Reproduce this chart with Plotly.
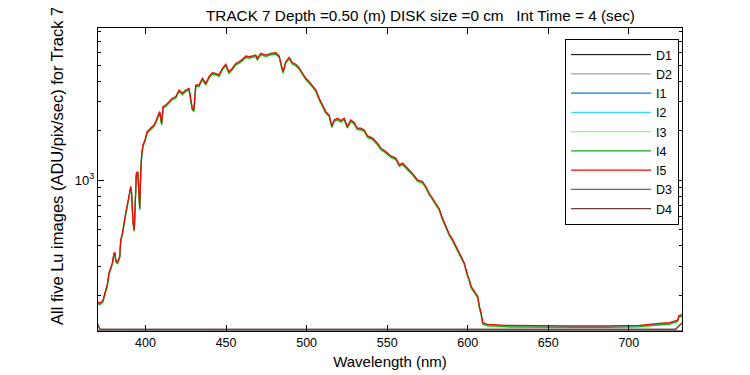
import plotly.graph_objects as go
import math

# ---- data ----
wavelength = [370.5, 371.2, 372.5, 373.6, 374.8, 376.3, 377.3, 378.4, 379.4, 380.4, 381.0, 381.5,
              382.5, 384.0, 384.6, 385.6, 387.0, 387.7, 389.3, 390.8, 391.4, 392.2, 393.0, 393.6,
              394.3, 395.2, 395.6, 396.4, 397.0, 397.6, 398.4, 399.7, 401.0, 403.2, 405.3, 406.3,
              407.8, 408.8, 410.0, 410.9, 412.6, 414.6, 416.6, 418.8, 420.8, 422.9, 425.0, 427.0,
              429.0, 430.0, 431.2, 433.2, 435.3, 437.4, 439.4, 441.5, 443.5, 445.6, 447.7, 449.8,
              451.8, 453.9, 456.0, 458.0, 460.1, 462.2, 464.3, 466.3, 468.4, 469.4, 471.6, 474.7,
              477.8, 480.9, 483.0, 484.6, 485.4, 487.0, 489.1, 491.2, 493.3, 495.3, 497.4, 499.5,
              501.6, 503.6, 505.7, 507.8, 509.8, 511.9, 514.0, 515.6, 517.1, 519.1, 521.2, 523.3,
              525.3, 527.4, 529.5, 531.5, 533.6, 535.7, 537.8, 540.9, 544.0, 546.1, 549.2, 552.3,
              555.4, 557.5, 559.5, 562.6, 565.7, 568.8, 571.9, 574.0, 576.0, 578.1, 580.2, 582.3,
              584.3, 586.4, 588.5, 590.5, 592.7, 594.7, 597.8, 599.9, 600.9, 602.1, 604.1, 606.2,
              607.2, 608.3, 609.3, 612.4, 623.8, 644.4, 665.1, 685.8, 698.2, 706.5, 716.9, 725.2,
              730.3, 731.0, 733.0]

I5 = [182, 179, 181, 186, 206, 232, 272, 297, 314, 360, 362, 328,
      316, 344, 434, 472, 553, 631, 760, 915, 834, 561, 500, 700,
      1100, 1127, 915, 676, 1100, 1424, 1636, 1757, 1973, 2067, 2168, 2268,
      2434, 2608, 2216, 2800, 2865, 3000, 3145, 3220, 3532, 3373, 3532, 3610,
      2733, 2670, 3785, 3785, 4155, 3868, 4252, 4500, 4460, 4360, 4785, 5060,
      4560, 4785, 5120, 5240, 5420, 5680, 5630, 5680, 5760, 5500, 5900, 5760,
      5900, 5950, 5680, 4880, 4560, 5240, 5580, 5180, 5060, 4830, 4460, 4155,
      3970, 3740, 3532, 3145, 2865, 2608, 2488, 2134, 2320, 2378, 2300, 2378,
      2115, 2320, 2240, 2067, 2067, 2020, 1856, 1800, 1677, 1563, 1492, 1404,
      1360, 1238, 1268, 1183, 1100, 1004, 980, 915, 834, 778, 725, 670,
      588, 530, 470, 438, 395, 362, 315, 265, 250, 226, 211, 197,
      171, 156, 136, 133, 131, 130, 130, 130, 130, 131, 134, 136,
      141, 150, 152]

image_names = ["I1", "I2", "I3", "I4", "I5"]
image_ratio = [0.990, 0.985, 0.975, 0.980, 1.000]
image_colors = ["#0a78dc", "#33dcff", "#80ff80", "#10b010", "#ff0000"]

dark_wavelength = [370.5, 371.5, 373.0, 500.0, 650.0, 729.0, 731.0, 733.0]
D1 = [121.5, 121.5, 121.5, 121.5, 121.5, 121.5, 121.5, 121.5]
D2 = [121.6, 121.6, 121.6, 121.6, 121.6, 121.6, 121.6, 121.6]
D3 = [133, 124.5, 124, 124, 124, 124, 130, 136]
D4 = [133, 124.3, 123.8, 123.8, 123.8, 123.8, 129, 135]

x_ticks = [400, 450, 500, 550, 600, 650, 700]
y_minor = [200, 300, 400, 500, 600, 700, 800, 900, 2000, 3000, 4000, 5000, 6000, 7000, 8000]

title_text = "TRACK 7 Depth =0.50 (m) DISK size =0 cm\u00a0\u00a0\u00a0Int Time = 4 (sec)"
ylabel_text = "All five Lu images (ADU/pix/sec) for Track 7"
xlabel_text = "Wavelength (nm)"

# ---- figure ----
fig = go.Figure()
FONT = "Liberation Sans, Arial, sans-serif"

fig.add_trace(go.Scatter(x=dark_wavelength, y=D1, name="D1", mode="lines",
                         line=dict(color="#000000", width=1)))
fig.add_trace(go.Scatter(x=dark_wavelength, y=D2, name="D2", mode="lines",
                         line=dict(color="#909090", width=1)))
for name, r, c in zip(image_names, image_ratio, image_colors):
    fig.add_trace(go.Scatter(x=wavelength, y=[v * r for v in I5], name=name, mode="lines",
                             line=dict(color=c, width=1.2)))
fig.add_trace(go.Scatter(x=dark_wavelength, y=D3, name="D3", mode="lines",
                         line=dict(color="#8a5a5a", width=1.2)))
fig.add_trace(go.Scatter(x=dark_wavelength, y=D4, name="D4", mode="lines",
                         line=dict(color="#703c3c", width=1.2)))

# page is drawn with an 8 px body margin; work in page pixels and shift
OFF = 8
W, H = 750, 375
PL, PR, PT, PB = 98, 682, 28, 331        # plot box in page pixels
L = PL - OFF
T = PT - OFF
R = W - (PR - OFF)
B = H - (PB - OFF)
pw, ph = PR - PL, PB - PT

def px_x(p):
    return (p - PL) / pw

def px_y(p):
    return (PB - p) / ph

fig.update_layout(
    width=W, height=H,
    margin=dict(l=L, r=R, t=T, b=B, pad=0),
    paper_bgcolor="white", plot_bgcolor="white",
    font=dict(family=FONT, size=12, color="black"),
    showlegend=True,
    legend=dict(x=px_x(679), y=px_y(39), xanchor="right", yanchor="top",
                bgcolor="white", bordercolor="black", borderwidth=1,
                font=dict(size=12.5, family=FONT), itemwidth=80,
                tracegroupgap=0),
    xaxis=dict(range=[370.5, 733], tickvals=x_ticks, ticks="inside", ticklen=6,
               tickcolor="black", showline=True, linecolor="black", linewidth=1,
               mirror="allticks", showgrid=False, zeroline=False,
               tickfont=dict(size=12.5),
               title=dict(text=xlabel_text, font=dict(size=15), standoff=7)),
    yaxis=dict(type="log", range=[math.log10(121), math.log10(8400)],
               tickvals=[1000], ticktext=["10<sup>3</sup>"], ticks="inside", ticklen=6,
               tickcolor="black", showline=True, linecolor="black", linewidth=1,
               mirror="allticks", showgrid=False, zeroline=False,
               tickfont=dict(size=13),
               minor=dict(tickvals=y_minor, ticks="inside", ticklen=3, tickcolor="black",
                          showgrid=False)),
    annotations=[
        dict(text=title_text, x=px_x(420), y=px_y(16), xref="paper", yref="paper",
             xanchor="center", yanchor="middle", showarrow=False, font=dict(size=15.3)),
        dict(text=ylabel_text, x=px_x(57), y=px_y(166), xref="paper", yref="paper",
             xanchor="center", yanchor="middle", showarrow=False, textangle=-90,
             font=dict(size=16.5)),
    ],
)

fig.write_html("out.html")
